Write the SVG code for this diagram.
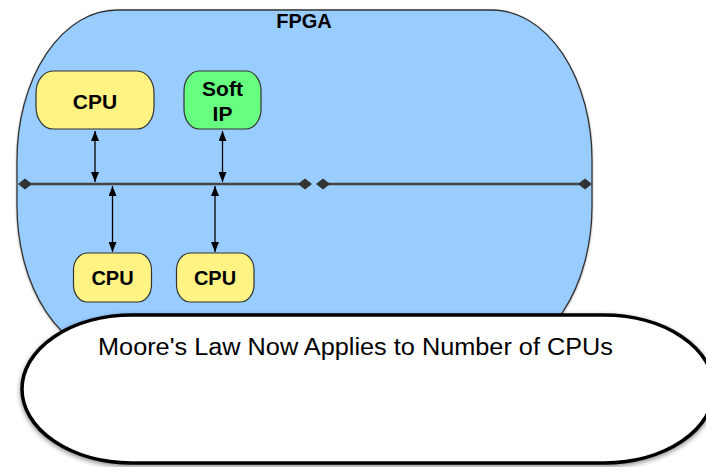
<svg xmlns="http://www.w3.org/2000/svg" width="706" height="467" viewBox="0 0 706 467">
  <style>
    .lbl { font-family: "Liberation Sans", Arial, Helvetica, sans-serif; fill: #000; text-anchor: middle; }
    .bold { font-weight: bold; }
    .box { stroke: #333; stroke-width: 1.2; }
    .cpu { fill: #FFF383; }
    .ip { fill: #66FF80; }
    .bus { stroke: #444; stroke-width: 2.6; fill: none; marker-start: url(#dia); marker-end: url(#dia); }
    .link { stroke: #000; stroke-width: 1.3; fill: none; marker-start: url(#arr); marker-end: url(#arr); }
  </style>
  <defs>
    <filter id="shadow" x="-10%" y="-10%" width="120%" height="130%">
      <feDropShadow dx="0" dy="2" stdDeviation="2.5" flood-color="#000" flood-opacity="0.45"/>
    </filter>
    <filter id="soft" x="-10%" y="-10%" width="120%" height="130%">
      <feDropShadow dx="0" dy="1" stdDeviation="1" flood-color="#000" flood-opacity="0.3"/>
    </filter>
    <marker id="dia" viewBox="-7 -6 14 12" markerWidth="14" markerHeight="12" refX="0" refY="0" orient="auto" markerUnits="userSpaceOnUse">
      <path d="M-7,0 L0,-5.5 L7,0 L0,5.5 Z" fill="#333"/>
    </marker>
    <marker id="arr" viewBox="0 -4 10 8" markerWidth="10" markerHeight="8" refX="10" refY="0" orient="auto-start-reverse" markerUnits="userSpaceOnUse">
      <path d="M0,-4 L10,0 L0,4 Z" fill="#000"/>
    </marker>
  </defs>

  <!-- FPGA fabric -->
  <g id="fpga">
    <rect x="17" y="10" width="575" height="346" rx="100" ry="150" fill="#99CCFF" stroke="#333" stroke-width="1.3" filter="url(#soft)"/>
    <text class="lbl bold" x="304" y="28" font-size="20">FPGA</text>
  </g>

  <!-- buses and links -->
  <g id="connectors">
    <line class="bus" x1="25" y1="184" x2="305" y2="184"/>
    <line class="bus" x1="323" y1="184" x2="585" y2="184"/>
    <line class="link" x1="95" y1="131" x2="95" y2="182"/>
    <line class="link" x1="222.5" y1="131" x2="222.5" y2="182"/>
    <line class="link" x1="112.5" y1="186" x2="112.5" y2="252"/>
    <line class="link" x1="215" y1="186" x2="215" y2="252"/>
  </g>

  <g id="cpu-top">
    <rect class="box cpu" x="36" y="71" width="118" height="58" rx="17" ry="22"/>
    <text class="lbl bold" x="95" y="108.5" font-size="21">CPU</text>
  </g>

  <g id="soft-ip">
    <rect class="box ip" x="184" y="71" width="77" height="58" rx="15" ry="20"/>
    <text class="lbl bold" x="222.5" y="96" font-size="21">Soft</text>
    <text class="lbl bold" x="222.5" y="121" font-size="21">IP</text>
  </g>

  <g id="cpu-bottom-1">
    <rect class="box cpu" x="73.5" y="253" width="78" height="49" rx="14" ry="17"/>
    <text class="lbl bold" x="112.5" y="285" font-size="20">CPU</text>
  </g>

  <g id="cpu-bottom-2">
    <rect class="box cpu" x="176.5" y="253" width="77.5" height="49" rx="14" ry="17"/>
    <text class="lbl bold" x="215" y="285" font-size="20">CPU</text>
  </g>

  <!-- callout -->
  <g id="callout">
    <rect x="22" y="315" width="692" height="148" rx="110" ry="74" fill="#fff" stroke="#000" stroke-width="3.5" filter="url(#shadow)"/>
    <text class="lbl" x="355.5" y="354.5" font-size="23.5" textLength="515" lengthAdjust="spacingAndGlyphs">Moore's Law Now Applies to Number of CPUs</text>
  </g>
</svg>
